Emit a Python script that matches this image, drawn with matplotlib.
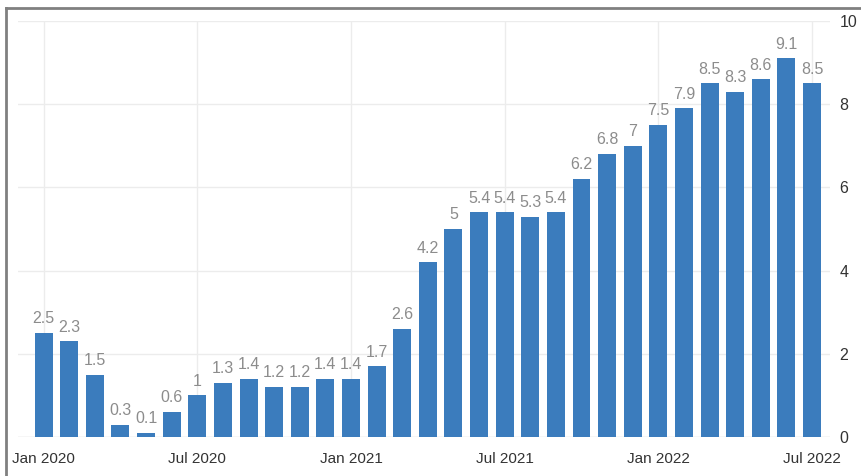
import matplotlib
matplotlib.use("Agg")
import matplotlib.pyplot as plt
from matplotlib.lines import Line2D

months = ["Jan 2020", "Feb 2020", "Mar 2020", "Apr 2020", "May 2020", "Jun 2020",
          "Jul 2020", "Aug 2020", "Sep 2020", "Oct 2020", "Nov 2020", "Dec 2020",
          "Jan 2021", "Feb 2021", "Mar 2021", "Apr 2021", "May 2021", "Jun 2021",
          "Jul 2021", "Aug 2021", "Sep 2021", "Oct 2021", "Nov 2021", "Dec 2021",
          "Jan 2022", "Feb 2022", "Mar 2022", "Apr 2022", "May 2022", "Jun 2022",
          "Jul 2022"]
values = [2.5, 2.3, 1.5, 0.3, 0.1, 0.6, 1, 1.3, 1.4, 1.2, 1.2, 1.4,
          1.4, 1.7, 2.6, 4.2, 5, 5.4, 5.4, 5.3, 5.4, 6.2, 6.8, 7,
          7.5, 7.9, 8.5, 8.3, 8.6, 9.1, 8.5]
xtick_labels = ["Jan 2020", "Jul 2020", "Jan 2021", "Jul 2021", "Jan 2022", "Jul 2022"]
yticks = [0, 2, 4, 6, 8, 10]

plt.rcParams['font.family'] = ['Liberation Sans', 'DejaVu Sans']

fig = plt.figure(figsize=(8.61, 4.76), dpi=100)
ax = fig.add_axes([18/861, 39/476, (830-18)/861, (437-21)/476])

x = list(range(len(values)))
bar_color = "#3b7cbd"
ax.bar(x, values, width=0.70, color=bar_color, zorder=3)

for xi, v in zip(x, values):
    lbl = f"{v:g}"
    ax.text(xi, v + 0.16, lbl, ha="center", va="bottom", fontsize=11.5,
            color="#8c8c8c", zorder=4)

ax.set_xlim(-1.0, 30.7)
ax.set_ylim(0, 10)

tick_pos = [months.index(m) for m in xtick_labels]
ax.set_xticks(tick_pos)
ax.set_xticklabels(xtick_labels, fontsize=11, color="#333333")
ax.set_yticks(yticks)
ax.set_yticklabels([str(t) for t in yticks], fontsize=11.5, color="#333333")
ax.yaxis.tick_right()
ax.tick_params(axis="both", length=0)
ax.tick_params(axis="x", pad=11)
ax.tick_params(axis="y", pad=7)

ax.grid(True, color="#ececec", linewidth=1, zorder=0)
for s in ax.spines.values():
    s.set_visible(False)
ax.axhline(0, color="#e6e6e6", linewidth=1, zorder=2)

# outer frame (top and left border)
fig.add_artist(Line2D([6/861, 6/861], [0, 1 - 8/476], transform=fig.transFigure,
                      color="#808080", linewidth=2))
fig.add_artist(Line2D([6/861, 1], [1 - 8/476, 1 - 8/476], transform=fig.transFigure,
                      color="#808080", linewidth=2))

fig.savefig("out.png", dpi=100)
